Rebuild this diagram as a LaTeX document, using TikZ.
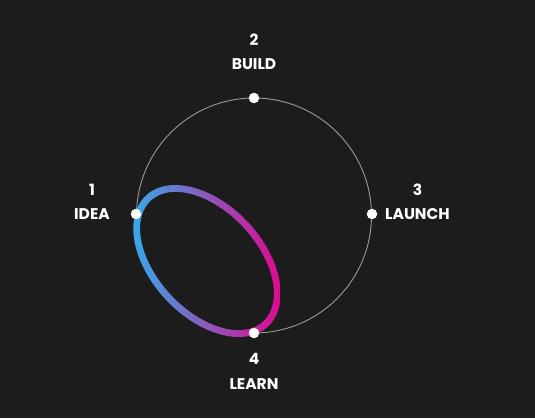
\documentclass[tikz,border=0pt]{standalone}
\usepackage{fontspec}
\setmainfont{Poppins}
\begin{document}
\begin{tikzpicture}[x=1pt,y=-1pt,
  stage/.style={inner sep=0pt, font=\fontsize{15.5}{17}\selectfont\bfseries, text=white},
  stagedot/.style={circle, fill=white, inner sep=0pt, minimum size=10.5pt},
]
\definecolor{bg}{HTML}{1C1C1C}
\definecolor{ringgray}{HTML}{9A9A9A}
\definecolor{loopblue}{HTML}{36AAEA}
\definecolor{looppink}{HTML}{E3058E}
\fill[bg] (0,0) rectangle (535,418);

% the cycle circle
\coordinate (c) at (254,215.5);
\draw[ringgray, line width=0.9pt] (c) circle[radius=117.5];

% tilted gradient loop: a ring between two ellipses, shaded left to right
\begin{scope}[even odd rule]
  \clip
    plot[variable=\t, domain=0:360, samples=181]
      ({207+89.5*cos(\t)*cos(47)-56.5*sin(\t)*sin(47)},
       {261+89.5*cos(\t)*sin(47)+56.5*sin(\t)*cos(47)}) -- cycle
    plot[variable=\t, domain=0:360, samples=181]
      ({207+82.5*cos(\t)*cos(47)-49.5*sin(\t)*sin(47)},
       {261+82.5*cos(\t)*sin(47)+49.5*sin(\t)*cos(47)}) -- cycle;
  \shade[left color=loopblue, right color=looppink] (131,180) rectangle (284,342);
\end{scope}

% stage points
\node[stagedot] (p1) at (136,214) {};
\node[stagedot] (p2) at (254,98) {};
\node[stagedot] (p3) at (372,214) {};
\node[stagedot] (p4) at (254,333) {};

% stage labels
\node[stage] (n1) at (92,190) {1};
\node[stage] (t1) at (92,214) {IDEA};
\node[stage] (n2) at (254,40) {2};
\node[stage] (t2) at (254,64) {BUILD};
\node[stage] (n3) at (417.5,190) {3};
\node[stage] (t3) at (417.5,214) {LAUNCH};
\node[stage] (n4) at (254,358.5) {4};
\node[stage] (t4) at (254,384) {LEARN};
\end{tikzpicture}
\end{document}
